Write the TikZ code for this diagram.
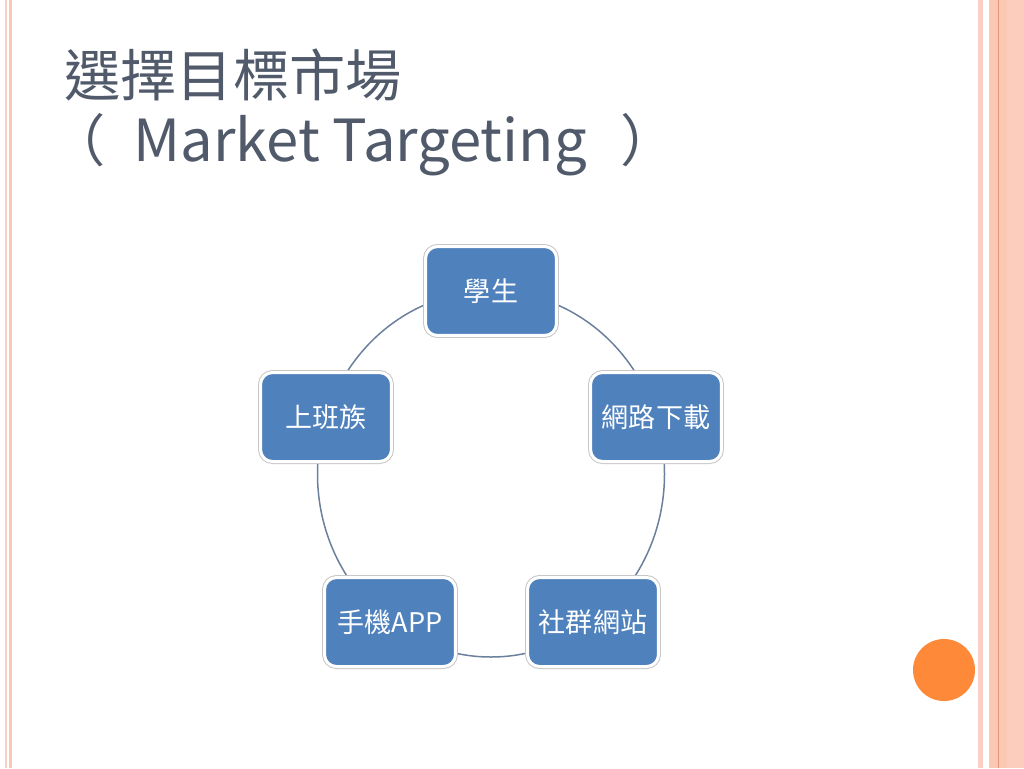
\documentclass[tikz,border=0pt]{standalone}
\usepackage{fontspec}
\setmainfont{Noto Sans CJK TC}
\definecolor{titlegray}{RGB}{80,90,106}
\definecolor{boxblue}{RGB}{79,129,189}
\definecolor{ringgray}{RGB}{108,128,158}
\definecolor{salmon}{RGB}{251,200,180}
\definecolor{salmonlt}{RGB}{252,205,188}
\definecolor{salmondk}{RGB}{226,150,118}
\definecolor{pinklt}{RGB}{250,208,198}
\definecolor{dotorange}{RGB}{253,137,57}
\begin{document}
\begin{tikzpicture}[x=0.02cm,y=-0.02cm,
        seg/.style={fill=boxblue, draw=white, line width=0.06cm, rounded corners=0.24cm,
            minimum width=2.62cm, minimum height=1.78cm, inner sep=0pt,
            preaction={draw=black!22, line width=0.1cm},
            text=white, font=\fontsize{15.4}{18}\selectfont},
        ttl/.style={anchor=west, inner sep=0pt, text=titlegray, font=\fontsize{32}{38}\selectfont}]
    \useasboundingbox (0,0) rectangle (1024,768);
    \fill[white] (0,0) rectangle (1024,768);

    % page borders
    \fill[pinklt] (5,0) rectangle (7,768);
    \fill[salmon] (9,0) rectangle (12,768);
    \fill[pinklt] (978,0) rectangle (983,768);
    \fill[salmon] (989,0) rectangle (1007,768);
    \fill[salmonlt] (1007,0) rectangle (1024,768);
    \fill[salmondk] (998,0) rectangle (999.3,768);
    \fill[dotorange] (944,670) circle [radius=31];

    % title
    \draw (64,75) node[ttl] (t1) {選擇目標市場};
    \draw (49,145) node[ttl] (t2) {（\hspace{0.56cm}{\fontsize{33}{38}\selectfont Market Targeting}\hspace{0.68cm}）};

    % ring
    \draw[ringgray, line width=0.03cm] (491,474) circle [x radius=173.5, y radius=183];

    \draw (491,291) node[seg] (a) {學生};
    \draw (656,417) node[seg] (b) {網路下載};
    \draw (593,622) node[seg] (c) {社群網站};
    \draw (390,622) node[seg] (d) {手機APP};
    \draw (326,417) node[seg] (e) {上班族};
\end{tikzpicture}
\end{document}
